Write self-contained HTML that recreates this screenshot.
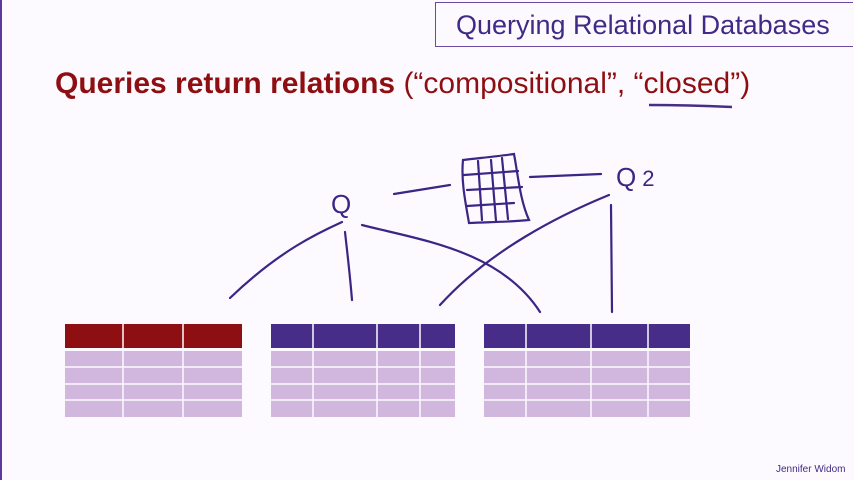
<!DOCTYPE html>
<html><head><meta charset="utf-8"><style>
body{margin:0;background:#fdfaff;}
#s{position:relative;width:854px;height:480px;overflow:hidden;background:#fdfaff;font-family:"Liberation Sans",sans-serif;}
#lb{position:absolute;left:0;top:0;width:2px;height:480px;background:#5a3a9a;}
#tb{position:absolute;left:435px;top:2px;width:418px;height:45px;border:1px solid #6a4aa0;border-right:none;box-sizing:border-box;color:#3f2a86;font-size:27px;line-height:45px;padding-left:20px;}
#hd{position:absolute;left:55px;top:67px;font-size:30px;color:#8e0f12;white-space:nowrap;}
#jw{position:absolute;left:776px;top:464px;font-size:10px;color:#3f2a86;}
</style></head><body>
<div id="s">
<div id="lb"></div>
<div id="tb">Querying Relational Databases</div>
<div id="hd"><b>Queries return relations</b> (“compositional”, “closed”)</div>
<svg width="854" height="480" style="position:absolute;left:0;top:0">
<g>
<rect x="65" y="324" width="177" height="24" fill="#8e0f12"/>
<rect x="65" y="351" width="177" height="66" fill="#d1b6dd"/>
</g>
<g>
<rect x="271" y="324" width="184" height="24" fill="#472d88"/>
<rect x="271" y="351" width="184" height="66" fill="#d1b6dd"/>
</g>
<g>
<rect x="484" y="324" width="206" height="24" fill="#472d88"/>
<rect x="484" y="351" width="206" height="66" fill="#d1b6dd"/>
</g>
<g stroke="#fdfaff" stroke-width="1.5">
<line x1="123" y1="324" x2="123" y2="417"/><line x1="183" y1="324" x2="183" y2="417"/>
<line x1="313" y1="324" x2="313" y2="417"/><line x1="377" y1="324" x2="377" y2="417"/><line x1="420" y1="324" x2="420" y2="417"/>
<line x1="526" y1="324" x2="526" y2="417"/><line x1="591" y1="324" x2="591" y2="417"/><line x1="648" y1="324" x2="648" y2="417"/>
<line x1="60" y1="367" x2="700" y2="367"/><line x1="60" y1="384" x2="700" y2="384"/><line x1="60" y1="400" x2="700" y2="400"/>
</g>
<path d="M649 105 C680 105 710 106 732 107" fill="none" stroke="#472d88" stroke-width="2.5"/>
<g fill="none" stroke="#3b2585" stroke-width="2.2" stroke-linecap="round">
<path d="M342 222 C320 232 280 250 230 298"/>
<path d="M345 232 C347 250 350 275 352 300"/>
<path d="M362 225 C420 240 500 250 540 312"/>
<path d="M394 194 L450 185"/>
<path d="M530 177 L601 174"/>
<path d="M609 195 C560 215 490 250 440 305"/>
<path d="M611 205 L612 312"/>
<path d="M463 160 C480 158 500 156 514 154 C518 175 520 200 529 220 C510 222 490 222 469 223 C465 200 461 180 463 160Z"/>
<path d="M464 175 L518 171 M467 190 L522 187 M467 206 L514 203"/>
<path d="M478 161 L482 220 M491 160 L496 221 M502 158 L508 219"/>
</g>
<text x="331" y="213" font-size="26" fill="#3b2585" font-family="Liberation Sans, sans-serif">Q</text>
<text x="616" y="186" font-size="26" fill="#3b2585" font-family="Liberation Sans, sans-serif">Q<tspan font-size="22" dx="6">2</tspan></text>
</svg>
<div id="jw">Jennifer Widom</div>
</div>
</body></html>
